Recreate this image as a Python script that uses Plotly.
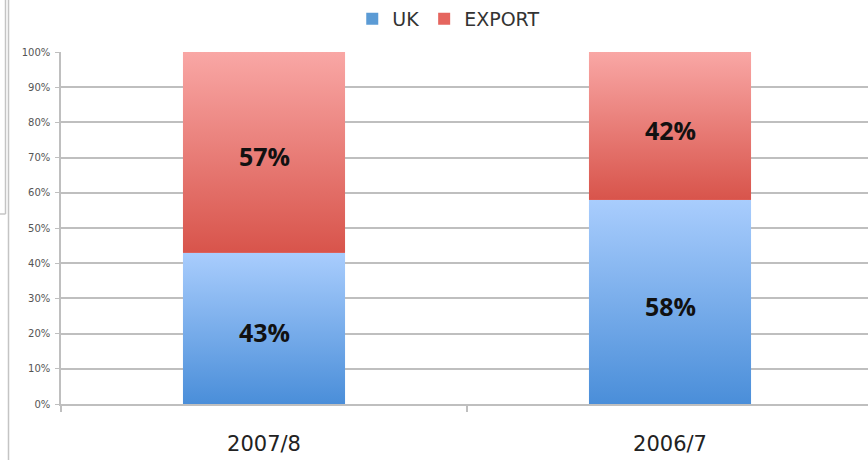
import base64
import plotly.graph_objects as go

# Market split by year (percent of sales)
years = ["2007/8", "2006/7"]
uk_share = [43, 58]
export_share = [57, 42]

BAR_WIDTH = 0.4
UK_TOP, UK_BOTTOM = "#a9cdfd", "#4a8ed9"
EX_TOP, EX_BOTTOM = "#f9a7a5", "#d8544b"
GRID = "#bfbfbf"


def gradient_uri(top, bottom):
    svg = (
        '<svg xmlns="http://www.w3.org/2000/svg" width="10" height="100" '
        'preserveAspectRatio="none" viewBox="0 0 10 100">'
        '<defs><linearGradient id="g" x1="0" y1="0" x2="0" y2="1">'
        f'<stop offset="0" stop-color="{top}"/>'
        f'<stop offset="1" stop-color="{bottom}"/>'
        '</linearGradient></defs>'
        '<rect x="0" y="0" width="10" height="100" fill="url(#g)"/></svg>'
    )
    return "data:image/svg+xml;base64," + base64.b64encode(svg.encode()).decode()


fig = go.Figure()
fig.add_trace(go.Bar(name="UK", x=years, y=uk_share, width=BAR_WIDTH,
                     marker=dict(color="#5b9bd5", line=dict(width=0)),
                     hoverinfo="skip"))
fig.add_trace(go.Bar(name="EXPORT", x=years, y=export_share, width=BAR_WIDTH,
                     marker=dict(color="#e5655e", line=dict(width=0)),
                     hoverinfo="skip"))

# Gradient fills laid over each bar segment, positioned in data coordinates
images = []
annotations = []
label_font = dict(family="Open Sans", size=25, color="#111111", weight="bold")
for i, (u, e) in enumerate(zip(uk_share, export_share)):
    images.append(dict(source=gradient_uri(UK_TOP, UK_BOTTOM), xref="x", yref="y",
                       x=i - BAR_WIDTH / 2, y=u, sizex=BAR_WIDTH, sizey=u,
                       xanchor="left", yanchor="top", sizing="stretch", layer="above"))
    images.append(dict(source=gradient_uri(EX_TOP, EX_BOTTOM), xref="x", yref="y",
                       x=i - BAR_WIDTH / 2, y=u + e, sizex=BAR_WIDTH, sizey=e,
                       xanchor="left", yanchor="top", sizing="stretch", layer="above"))
    annotations.append(dict(x=i, y=u / 2, xref="x", yref="y", text=f"{u}%",
                            showarrow=False, yshift=-4, font=label_font))
    annotations.append(dict(x=i, y=u + e / 2, xref="x", yref="y", text=f"{e}%",
                            showarrow=False, yshift=-4, font=label_font))

# Window frame edges along the left side
frame = dict(color="#c4c4c4", width=1.5)
shapes = [
    dict(type="line", xref="paper", yref="paper", x0=-52.5 / 807, x1=-52.5 / 807,
         y0=-56 / 352, y1=404 / 352, line=frame),
    dict(type="line", xref="paper", yref="paper", x0=-55.5 / 807, x1=-55.5 / 807,
         y0=(404 - 214) / 352, y1=404 / 352, line=frame),
    dict(type="line", xref="paper", yref="paper", x0=-61 / 807, x1=-55.5 / 807,
         y0=(404 - 214) / 352, y1=(404 - 214) / 352, line=frame),
]

fig.update_layout(
    width=868, height=460,
    margin=dict(l=61, r=0, t=52, b=56),
    barmode="stack",
    paper_bgcolor="white", plot_bgcolor="white",
    images=images, annotations=annotations, shapes=shapes,
    showlegend=True,
    legend=dict(orientation="h", traceorder="normal",
                xref="container", yref="container",
                x=0.517, xanchor="center", y=1.0, yanchor="top",
                font=dict(family="DejaVu Sans", size=19, color="#333333"),
                itemclick=False, itemdoubleclick=False),
    xaxis=dict(type="category", categoryorder="array", categoryarray=years,
               range=[-0.5, 1.4877], tickson="boundaries", ticks="outside",
               ticklen=6, tickwidth=1.5, tickcolor=GRID, showgrid=False,
               showline=True, linecolor=GRID, linewidth=1.5,
               ticklabelstandoff=20,
               tickfont=dict(family="DejaVu Sans", size=21, color="#222222")),
    yaxis=dict(range=[0, 100], tickmode="linear", tick0=0, dtick=10,
               ticksuffix="%",
               ticks="outside", ticklen=4, tickwidth=1, tickcolor=GRID,
               showgrid=True, gridcolor=GRID, gridwidth=1.5,
               showline=True, linecolor=GRID, linewidth=1.5, zeroline=False,
               ticklabelstandoff=3,
               tickfont=dict(family="DejaVu Sans", size=10, color="#555555")),
)

fig.write_html("out.html")
